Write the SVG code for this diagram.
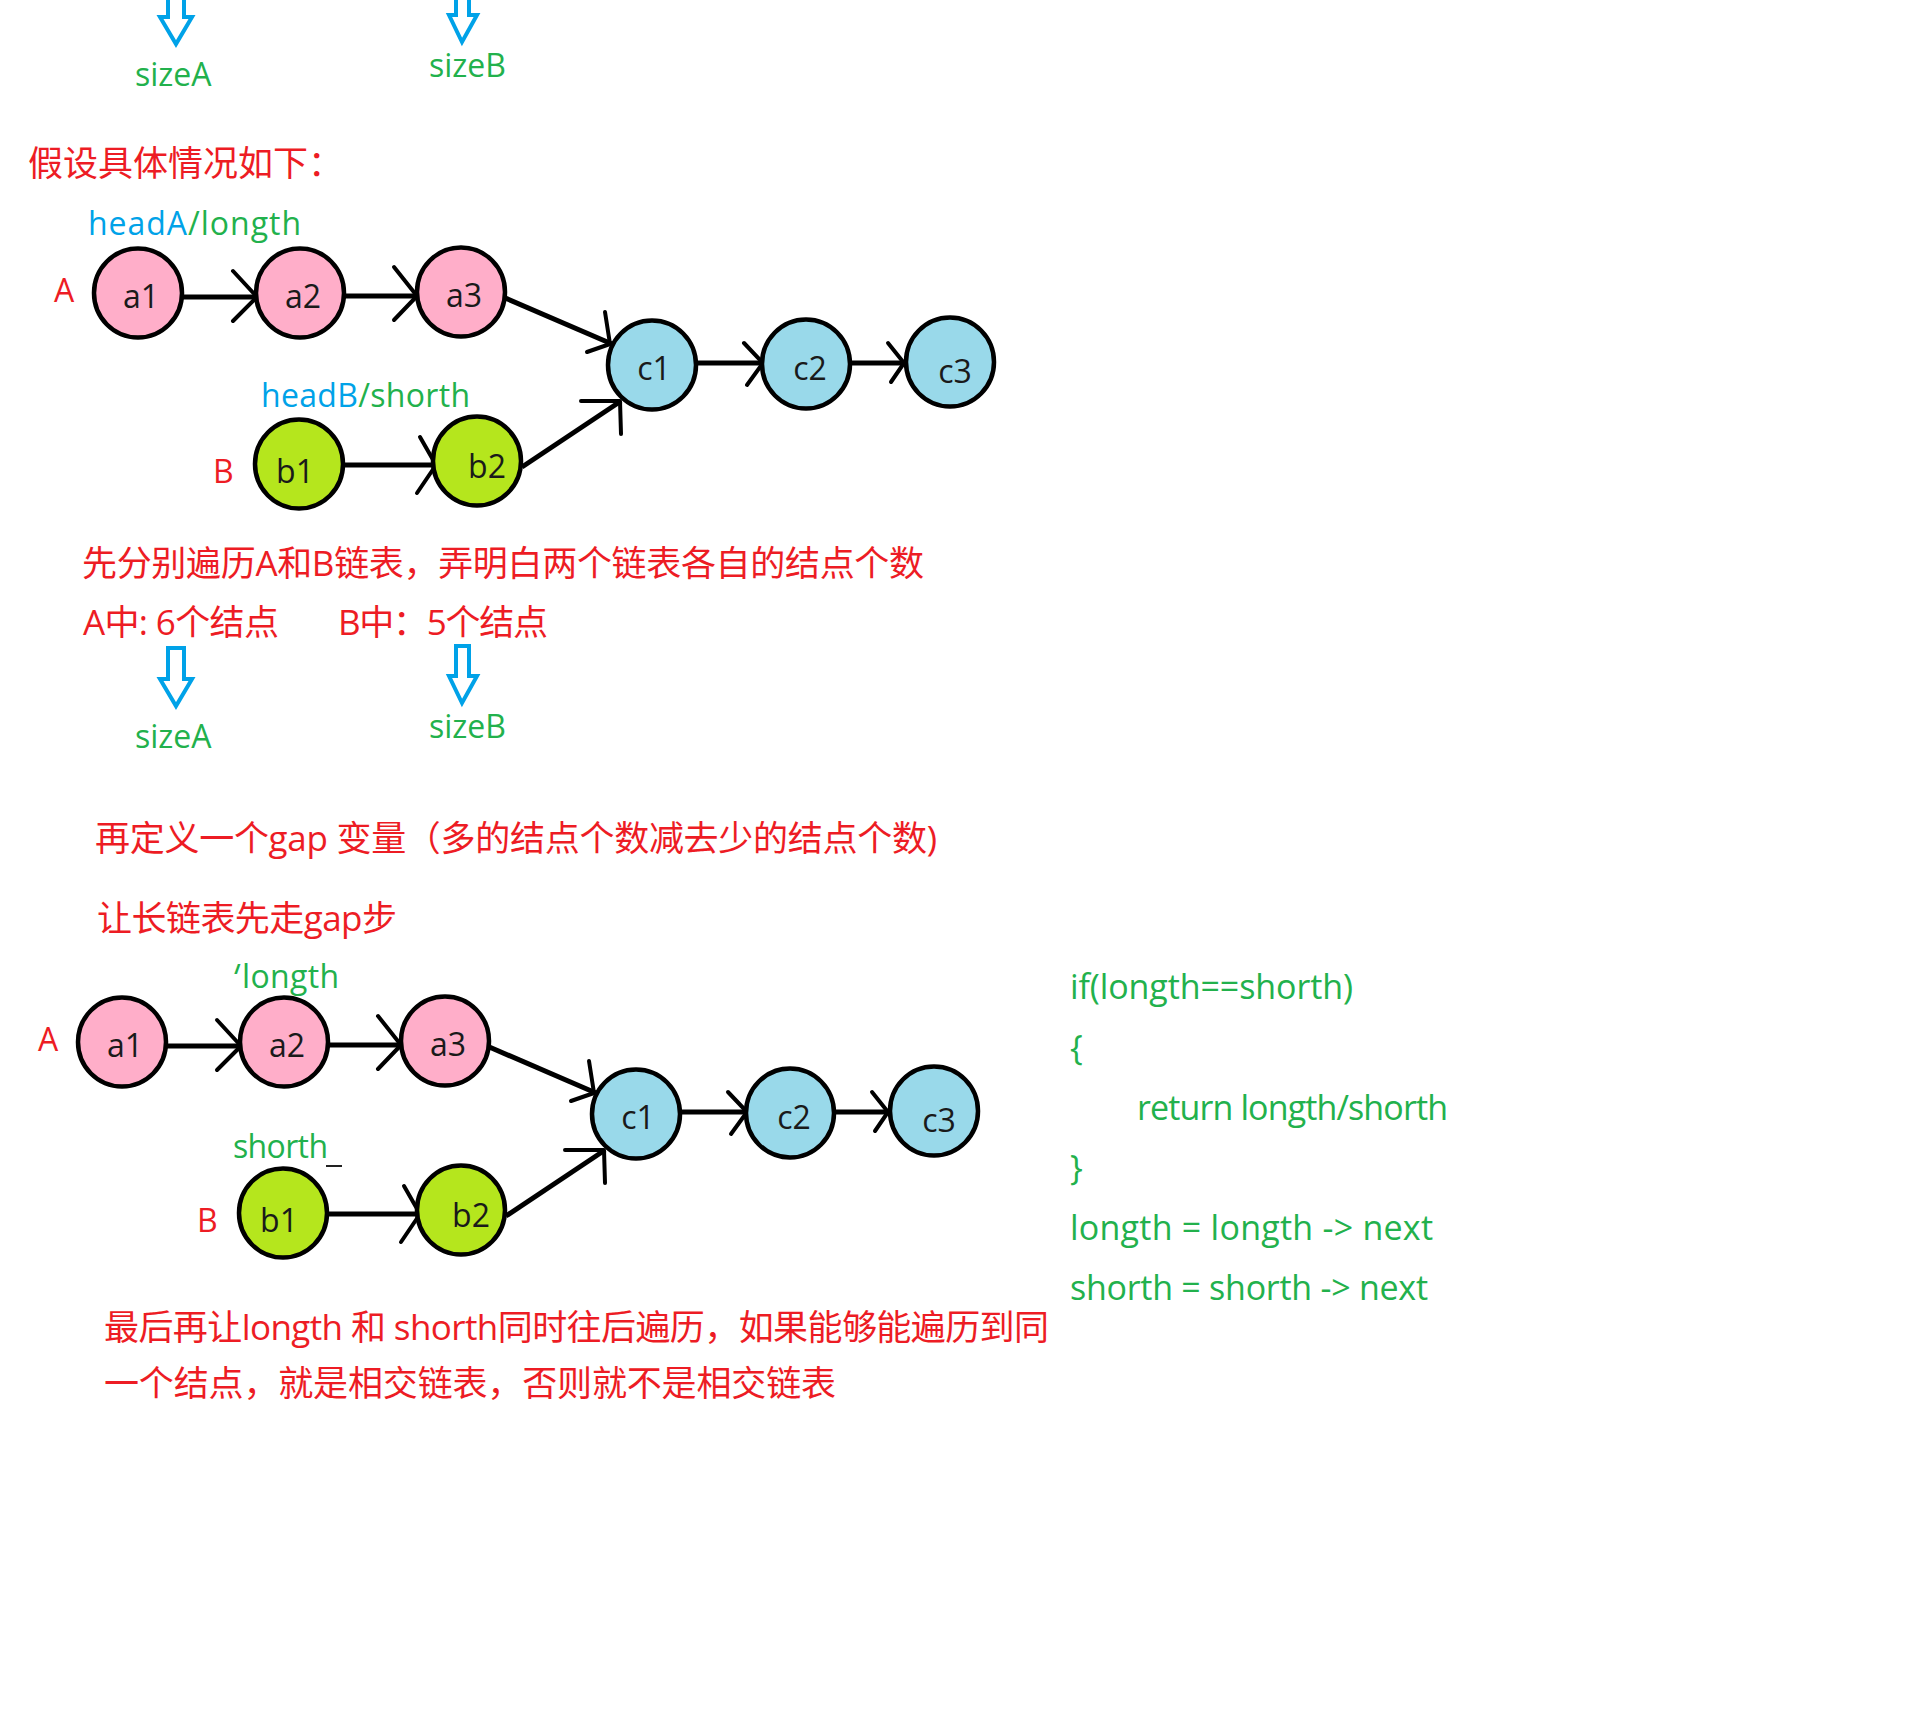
<svg xmlns="http://www.w3.org/2000/svg" width="1922" height="1720" viewBox="0 0 1922 1720">
<style>
  .red { fill: #ed1c24; font-family: "Open Sans", "Noto Sans CJK SC", sans-serif; font-size: 35px; }
  .grn { fill: #22b14c; font-family: "Open Sans", "Noto Sans CJK SC", sans-serif; font-size: 32px; }
  .code { fill: #22b14c; font-family: "Open Sans", sans-serif; font-size: 34px; }
  .lbl { fill: #ed1c24; font-family: "Open Sans", sans-serif; font-size: 32px; }
  .nt { fill: #1a1a1a; font-family: "Open Sans", sans-serif; font-size: 32px; text-anchor: middle; }
  .pa { fill: #ffaec9; stroke: #000; stroke-width: 4.5; }
  .pc { fill: #99d9ea; stroke: #000; stroke-width: 4.5; }
  .pb { fill: #b5e61d; stroke: #000; stroke-width: 4.5; }
  .edge { stroke: #000; stroke-width: 5; fill: none; }
  .wing { stroke: #000; stroke-width: 4; fill: none; stroke-linecap: round; stroke-linejoin: round; }
  .barrow { fill: #fff; stroke: #00a2e8; stroke-width: 4; stroke-linejoin: miter; }
</style>
<defs>
  <clipPath id="tickclip"><rect x="220" y="950" width="40" height="24"/></clipPath>
</defs>
<rect x="0" y="0" width="1922" height="1720" fill="#fff"/>

<!-- Top remnant: arrows and size labels -->
<g id="top-arrows">
  <polygon class="barrow" points="168,-14 184,-14 184,17 192,17 176,44 160,17 168,17"/>
  <polygon class="barrow" points="456,-15 469,-15 469,15 477,15 462,42 449,15 456,15"/>
</g>
<text class="grn" x="135" y="86">sizeA</text>
<text class="grn" x="429" y="77">sizeB</text>

<text class="red" x="28" y="176">假设具体情况如下：</text>

<!-- Diagram 1 -->
<text class="lbl" x="54" y="302">A</text>
<text class="lbl" x="213" y="483">B</text>
<text class="grn" x="88" y="235" font-size="33" textLength="213"><tspan fill="#00a2e8">headA</tspan><tspan fill="#22b14c">/longth</tspan></text>
<text class="grn" x="261" y="407" font-size="33" textLength="209"><tspan fill="#00a2e8">headB</tspan><tspan fill="#22b14c">/shorth</tspan></text>

<g id="connectors-1">
  <line class="edge" x1="183" y1="297" x2="256" y2="297"/>
  <polyline class="wing" points="233,271 257,297 233,321"/>
  <line class="edge" x1="345" y1="296" x2="417" y2="296"/>
  <polyline class="wing" points="394,267 417,296 394,320"/>
  <line class="edge" x1="503" y1="297" x2="612" y2="344"/>
  <polyline class="wing" points="605,312 610,344 587,352"/>
  <line class="edge" x1="698" y1="363" x2="763" y2="363"/>
  <polyline class="wing" points="744,343 763,363 747,385"/>
  <line class="edge" x1="851" y1="363" x2="904" y2="363"/>
  <polyline class="wing" points="888,343 904,363 891,382"/>
  <line class="edge" x1="345" y1="465" x2="436" y2="465"/>
  <polyline class="wing" points="420,437 436,465 417,493"/>
  <line class="edge" x1="522" y1="467" x2="621" y2="401"/>
  <polyline class="wing" points="581,401 620,401 621,434"/>
</g>

<g id="a1"><ellipse class="pa" cx="138" cy="293" rx="44" ry="44.5"/><text class="nt" x="141" y="308">a1</text></g>
<g id="a2"><ellipse class="pa" cx="300" cy="293" rx="44" ry="44.5"/><text class="nt" x="303" y="308">a2</text></g>
<g id="a3"><ellipse class="pa" cx="461" cy="292" rx="44" ry="44.5"/><text class="nt" x="464" y="307">a3</text></g>
<g id="c1"><ellipse class="pc" cx="652" cy="365" rx="44" ry="44.5"/><text class="nt" x="654" y="380">c1</text></g>
<g id="c2"><ellipse class="pc" cx="806" cy="364" rx="44" ry="44.5"/><text class="nt" x="810" y="380">c2</text></g>
<g id="c3"><ellipse class="pc" cx="950" cy="362" rx="44" ry="44.5"/><text class="nt" x="955" y="383">c3</text></g>
<g id="b1"><ellipse class="pb" cx="299" cy="464" rx="44" ry="44.5"/><text class="nt" x="295" y="483">b1</text></g>
<g id="b2"><ellipse class="pb" cx="477" cy="461" rx="44" ry="44.5"/><text class="nt" x="487" y="478">b2</text></g>

<!-- Middle texts -->
<text class="red" x="82" y="576" textLength="842">先分别遍历A和B链表，弄明白两个链表各自的结点个数</text>
<text class="red" x="83" y="635" textLength="196">A中: 6个结点</text>
<text class="red" x="338" y="635" textLength="210">B中：5个结点</text>
<g id="mid-arrows">
  <polygon class="barrow" points="168,648 184,648 184,679 192,679 176,706 160,679 168,679"/>
  <polygon class="barrow" points="456,646 469,646 469,676 477,676 462,703 449,676 456,676"/>
</g>
<text class="grn" x="135" y="748">sizeA</text>
<text class="grn" x="429" y="738">sizeB</text>

<text class="red" x="95" y="851" textLength="842">再定义一个gap 变量（多的结点个数减去少的结点个数)</text>
<text class="red" x="97" y="931" textLength="300">让长链表先走gap步</text>

<!-- Diagram 2 -->
<text class="grn" x="229" y="988" font-size="33" clip-path="url(#tickclip)">/</text>
<text class="grn" x="242" y="988" font-size="33" textLength="97">longth</text>
<text class="grn" x="233" y="1158" font-size="33" textLength="95">shorth</text>
<line x1="326" y1="1166" x2="342" y2="1166" stroke="#222" stroke-width="2"/>

<g transform="translate(-16,749)">
  <text class="lbl" x="54" y="302">A</text>
  <text class="lbl" x="213" y="483">B</text>
  <g id="connectors-2">
    <line class="edge" x1="183" y1="297" x2="256" y2="297"/>
    <polyline class="wing" points="233,271 257,297 233,321"/>
    <line class="edge" x1="345" y1="296" x2="417" y2="296"/>
    <polyline class="wing" points="394,267 417,296 394,320"/>
    <line class="edge" x1="503" y1="297" x2="612" y2="344"/>
    <polyline class="wing" points="605,312 610,344 587,352"/>
    <line class="edge" x1="698" y1="363" x2="763" y2="363"/>
    <polyline class="wing" points="744,343 763,363 747,385"/>
    <line class="edge" x1="851" y1="363" x2="904" y2="363"/>
    <polyline class="wing" points="888,343 904,363 891,382"/>
    <line class="edge" x1="345" y1="465" x2="436" y2="465"/>
    <polyline class="wing" points="420,437 436,465 417,493"/>
    <line class="edge" x1="522" y1="467" x2="621" y2="401"/>
    <polyline class="wing" points="581,401 620,401 621,434"/>
  </g>
  <g id="a1-2"><ellipse class="pa" cx="138" cy="293" rx="44" ry="44.5"/><text class="nt" x="141" y="308">a1</text></g>
  <g id="a2-2"><ellipse class="pa" cx="300" cy="293" rx="44" ry="44.5"/><text class="nt" x="303" y="308">a2</text></g>
  <g id="a3-2"><ellipse class="pa" cx="461" cy="292" rx="44" ry="44.5"/><text class="nt" x="464" y="307">a3</text></g>
  <g id="c1-2"><ellipse class="pc" cx="652" cy="365" rx="44" ry="44.5"/><text class="nt" x="654" y="380">c1</text></g>
  <g id="c2-2"><ellipse class="pc" cx="806" cy="364" rx="44" ry="44.5"/><text class="nt" x="810" y="380">c2</text></g>
  <g id="c3-2"><ellipse class="pc" cx="950" cy="362" rx="44" ry="44.5"/><text class="nt" x="955" y="383">c3</text></g>
  <g id="b1-2"><ellipse class="pb" cx="299" cy="464" rx="44" ry="44.5"/><text class="nt" x="295" y="483">b1</text></g>
  <g id="b2-2"><ellipse class="pb" cx="477" cy="461" rx="44" ry="44.5"/><text class="nt" x="487" y="478">b2</text></g>
</g>

<!-- Code -->
<g id="code">
  <text class="code" x="1070" y="999" textLength="283">if(longth==shorth)</text>
  <text class="code" x="1070" y="1060">{</text>
  <text class="code" x="1137" y="1120" textLength="311">return longth/shorth</text>
  <text class="code" x="1070" y="1180">}</text>
  <text class="code" x="1070" y="1240" textLength="363">longth = longth -&gt; next</text>
  <text class="code" x="1070" y="1300" textLength="358">shorth = shorth -&gt; next</text>
</g>

<text class="red" x="104" y="1340" textLength="945">最后再让longth 和 shorth同时往后遍历，如果能够能遍历到同</text>
<text class="red" x="104" y="1396" textLength="732">一个结点，就是相交链表，否则就不是相交链表</text>
</svg>
